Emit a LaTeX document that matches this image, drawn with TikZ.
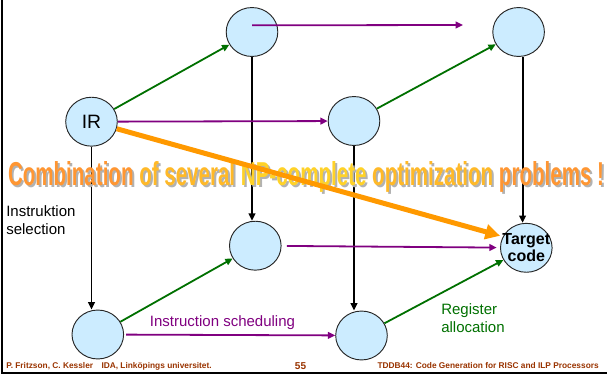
\documentclass[tikz,border=0pt]{standalone}
\usepackage{graphicx}
\usepackage{fontspec}
\setmainfont{Liberation Sans}
\usetikzlibrary{arrows.meta,shapes.geometric}
\definecolor{nodefill}{RGB}{204,236,255}
\definecolor{purp}{RGB}{128,0,128}
\definecolor{grn}{RGB}{0,112,0}
\definecolor{orng}{RGB}{255,153,0}
\definecolor{foot}{RGB}{153,51,0}
\definecolor{bigor}{RGB}{255,150,50}
\definecolor{bigmid}{RGB}{255,185,40}
\definecolor{bigye}{RGB}{255,210,40}
\newcommand{\labfont}{\fontsize{11.25}{13.5}\selectfont}

\begin{document}
\begin{tikzpicture}[x=0.75pt,y=-0.75pt,
state/.style={ellipse,draw=black!85,line width=0.7pt,fill=nodefill,minimum width=38.7pt,minimum height=36.7pt,inner sep=0pt},
flow/.style={line width=1.35pt,-{Triangle[length=5.5pt,width=5pt]}},
sel/.style={flow,black},
alloc/.style={flow,grn},
sched/.style={flow,purp},
footer/.style={foot,inner sep=0pt,font=\bfseries\fontsize{6.25}{7}\selectfont}]
\useasboundingbox (0,0) rectangle (607,374);
\draw[line width=1.5pt] (2,0) -- (2,373) -- (607,373);
\node[state,font=\fontsize{14.5}{16}\selectfont] (IR) at (91.5,121.7) {IR};
\node[state] (A) at (252,32) {};
\node[state] (TR) at (518.6,32) {};
\node[state] (B) at (354,121) {};
\node[state] (C) at (255.3,245.7) {};
\node[state,label={[align=center,inner sep=0pt,font=\bfseries\fontsize{12}{13}\selectfont]center:Target\\code}] (T) at (526.3,247.8) {};
\node[state] (D) at (97.8,334.5) {};
\node[state] (E) at (361.5,335.5) {};
\draw[sel] (IR.south) -- (IR.south |- D.north);
\draw[sel] (A.south) -- (A.south |- C.north);
\draw[sel] (B.south) -- (B.south |- E.north);
\draw[sel] ([xshift=3pt]TR.south) -- ([xshift=3pt]TR.south |- T.north);
\draw[alloc] (IR) -- (A);
\draw[alloc] (B) -- (TR);
\draw[alloc] (D) -- (C);
\draw[alloc] (E) -- (T);
\coordinate (topend) at (463,25);
\draw[sched] ([yshift=5pt]A.center) -- (topend);
\draw[sched] (IR) -- (B);
\draw[sched,shorten <=4pt,shorten >=2.5pt] (C) -- (T);
\draw[sched,shorten <=1.5pt] (D) -- (E);
\node[anchor=north west,align=left,inner sep=0pt,font=\labfont] (instsel) at (6,205) {Instruktion\\selection};
\node[purp,inner sep=0pt,font=\labfont] (instsched) at (222.5,323) {Instruction scheduling};
\node[grn,anchor=west,align=left,inner sep=0pt,font=\labfont] (regalloc) at (441,318) {Register\\allocation};
\node[black!30,inner sep=0pt,font=\bfseries] (bigshadow) at (308,179) {\resizebox{447pt}{18pt}{Combination of several NP-complete optimization problems !}};
\node[inner sep=0pt,font=\bfseries] (bigtext) at (306,177) {\resizebox{447pt}{18pt}{\color{bigor}Combination \color{bigmid}of several \color{bigye}NP-complete \color{bigmid}optimization \color{bigor}problems !}};
\draw[orng,line width=3.75pt,-{Triangle[length=11pt,width=11pt]}] (IR) -- ([yshift=9pt]T.west);
\node[footer,anchor=west] (footl) at (6,366) {P. Fritzson, C. Kessler\quad IDA, Linköpings universitet.};
\node[footer,font=\bfseries\fontsize{7.5}{8}\selectfont] (footn) at (300.5,366) {55};
\node[footer,anchor=east] (footr) at (599,366) {TDDB44: Code Generation for RISC and ILP Processors};
\end{tikzpicture}
\end{document}
